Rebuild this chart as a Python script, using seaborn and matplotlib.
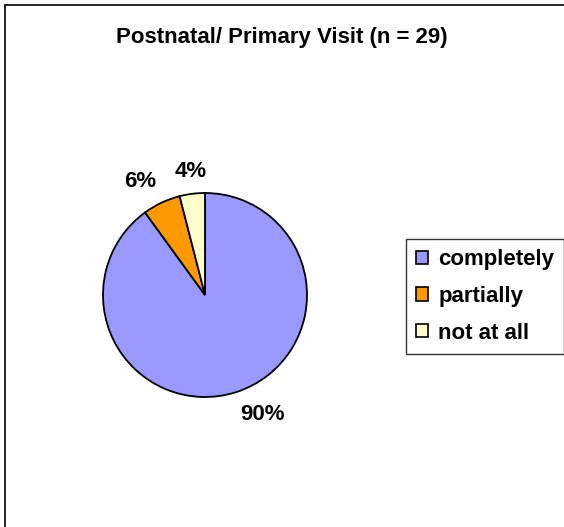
import matplotlib
matplotlib.use("Agg")
import matplotlib.pyplot as plt
import seaborn as sns
import numpy as np
from matplotlib.lines import Line2D
from matplotlib.patches import Patch

sns.set_theme(style="white")
plt.rcParams['font.family'] = ['Liberation Sans', 'DejaVu Sans']
plt.rcParams['text.color'] = 'black'

categories = ["completely", "partially", "not at all"]
values = [90, 6, 4]
colors = ["#9999FF", "#FF9900", "#FFFFCC"]
title = "Postnatal/ Primary Visit (n = 29)"

W, H = 564, 527
fig = plt.figure(figsize=(W / 100, H / 100), dpi=100)
fig.patch.set_facecolor("white")

# outer frame (left and top visible)
fig.add_artist(Line2D([5 / W, 5 / W], [0, 1 - 5 / H], color="black", lw=1.2, transform=fig.transFigure))
fig.add_artist(Line2D([5 / W, 1], [1 - 5 / H, 1 - 5 / H], color="black", lw=1.2, transform=fig.transFigure))

cx, cy, r = 205, 295, 102
ax = fig.add_axes([(cx - r) / W, (H - cy - r) / H, 2 * r / W, 2 * r / H])
wedges, _ = ax.pie(
    values, colors=colors, startangle=90, counterclock=False,
    wedgeprops=dict(edgecolor="black", linewidth=1.3),
)
# outside-end data labels, Excel style
for w, v in zip(wedges, values):
    ang = np.deg2rad((w.theta1 + w.theta2) / 2)
    c, s = np.cos(ang), np.sin(ang)
    rr = 1.12
    ha = "left" if c > 0.25 else ("right" if c < -0.25 else "center")
    va = "bottom" if s > 0 else "top"
    ax.text(rr * c, rr * s, f"{v}%", ha=ha, va=va, fontsize=16, fontweight="bold", color="black")
ax.set_xlim(-1, 1)
ax.set_ylim(-1, 1)
ax.set_aspect("equal")
ax.axis("off")

fig.text(0.5, 1 - 38 / H, title, ha="center", va="center", fontsize=16, fontweight="bold", color="black")

handles = [Patch(facecolor=c, edgecolor="black", linewidth=1.2) for c in colors]
leg = fig.legend(handles, categories, loc="center left", bbox_to_anchor=(406 / W, 1 - 296.5 / H),
                 frameon=True, fancybox=False, edgecolor="black",
                 prop=dict(weight="bold", size=16), handlelength=0.55, handleheight=0.55,
                 handletextpad=0.45, labelspacing=0.7, borderpad=0.45, borderaxespad=0)
leg.get_frame().set_linewidth(1.0)
for t in leg.get_texts():
    t.set_color("black")

fig.savefig("out.png", dpi=100, facecolor="white")
